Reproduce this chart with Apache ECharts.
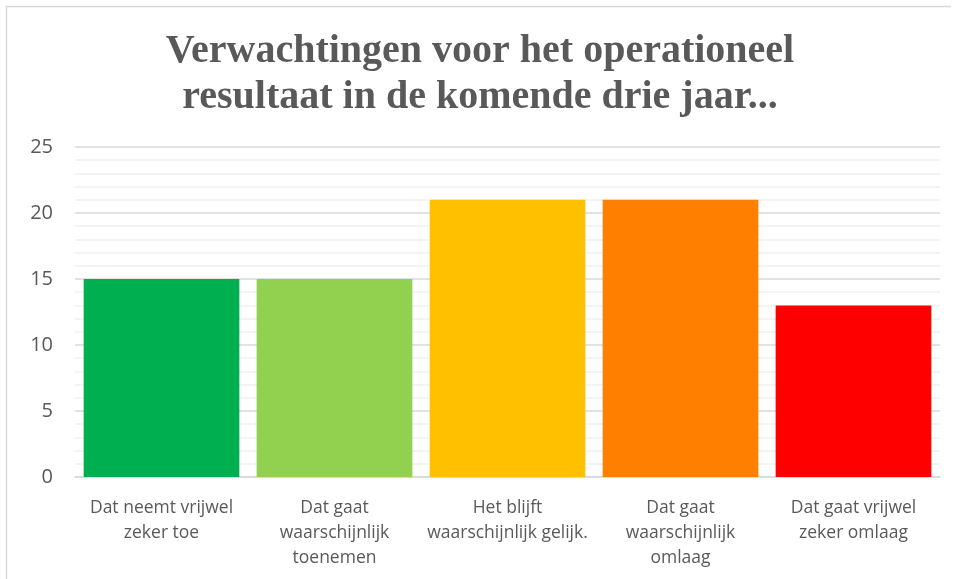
<!DOCTYPE html>
<html>
<head>
<meta charset="utf-8">
<script src="https://cdn.jsdelivr.net/npm/echarts@6/dist/echarts.min.js"></script>
<style>html,body{margin:0;padding:0;background:#fff;}#c{width:960px;height:579px;}</style>
</head>
<body>
<div id="c"></div>
<script>
const titleText = 'Verwachtingen voor het operationeel\nresultaat in de komende drie jaar...';
const categories = [
  'Dat neemt vrijwel\nzeker toe',
  'Dat gaat\nwaarschijnlijk\ntoenemen',
  'Het blijft\nwaarschijnlijk gelijk.',
  'Dat gaat\nwaarschijnlijk\nomlaag',
  'Dat gaat vrijwel\nzeker omlaag'
];
const values = [15, 15, 21, 21, 13];
const barColors = ['#00B050', '#92D050', '#FFC000', '#FF8000', '#FF0000'];
const yMin = 0, yMax = 25, yInterval = 5;

const chart = echarts.init(document.getElementById('c'), null, {renderer: 'canvas'});
chart.setOption({
  animation: false,
  title: {
    text: titleText,
    left: 'center',
    top: 24,
    textStyle: {
      fontFamily: '"Liberation Serif", serif',
      fontWeight: 'bold',
      fontSize: 40,
      color: '#595959',
      lineHeight: 46
    }
  },
  graphic: [
    {type: 'line', shape: {x1: 6, y1: 6.5, x2: 951, y2: 6.5}, style: {stroke: '#d9d9d9', lineWidth: 1.5}, silent: true},
    {type: 'line', shape: {x1: 6.5, y1: 6, x2: 6.5, y2: 579}, style: {stroke: '#d9d9d9', lineWidth: 1.5}, silent: true}
  ],
  grid: {left: 75, right: 20, top: 147, bottom: 102, containLabel: false},
  xAxis: {
    type: 'category',
    data: categories,
    axisTick: {show: false},
    axisLine: {show: true, lineStyle: {color: '#d9d9d9', width: 1.5}},
    axisLabel: {
      interval: 0,
      margin: 19,
      fontFamily: '"Open Sans", "Noto Sans", sans-serif',
      fontSize: 17.5,
      color: '#595959',
      lineHeight: 25
    }
  },
  yAxis: {
    type: 'value',
    min: yMin, max: yMax, interval: yInterval,
    axisLine: {show: false},
    axisTick: {show: false},
    axisLabel: {
      margin: 22,
      fontFamily: '"Open Sans", "Noto Sans", sans-serif',
      fontSize: 20,
      color: '#595959'
    },
    splitLine: {show: true, lineStyle: {color: '#d9d9d9', width: 1.5}},
    minorTick: {show: false, splitNumber: 5},
    minorSplitLine: {show: true, lineStyle: {color: '#f0f0f0', width: 1.5}}
  },
  series: [{
    type: 'bar',
    data: values.map((v, i) => ({value: v, itemStyle: {color: barColors[i]}})),
    barCategoryGap: '10%'
  }]
});
</script>
</body>
</html>
